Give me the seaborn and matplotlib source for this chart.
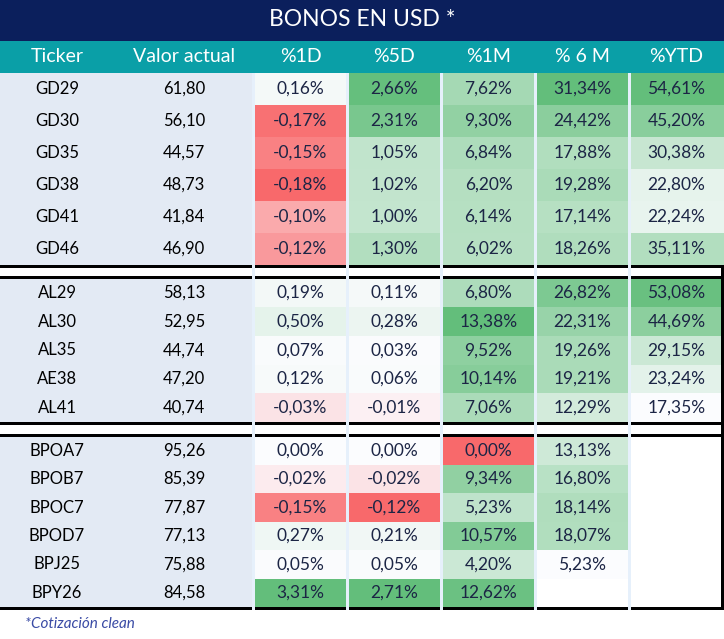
import numpy as np
import pandas as pd
import matplotlib.pyplot as plt
import seaborn as sns
from matplotlib.colors import LinearSegmentedColormap
from matplotlib.patches import Rectangle

# Data per block of bonds
gd_tickers = ["GD29", "GD30", "GD35", "GD38", "GD41", "GD46"]
gd_precio = [61.80, 56.10, 44.57, 48.73, 41.84, 46.90]
gd_1d = [0.16, -0.17, -0.15, -0.18, -0.10, -0.12]
gd_5d = [2.66, 2.31, 1.05, 1.02, 1.00, 1.30]
gd_1m = [7.62, 9.30, 6.84, 6.20, 6.14, 6.02]
gd_6m = [31.34, 24.42, 17.88, 19.28, 17.14, 18.26]
gd_ytd = [54.61, 45.20, 30.38, 22.80, 22.24, 35.11]

al_tickers = ["AL29", "AL30", "AL35", "AE38", "AL41"]
al_precio = [58.13, 52.95, 44.74, 47.20, 40.74]
al_1d = [0.19, 0.50, 0.07, 0.12, -0.03]
al_5d = [0.11, 0.28, 0.03, 0.06, -0.01]
al_1m = [6.80, 13.38, 9.52, 10.14, 7.06]
al_6m = [26.82, 22.31, 19.26, 19.21, 12.29]
al_ytd = [53.08, 44.69, 29.15, 23.24, 17.35]

bp_tickers = ["BPOA7", "BPOB7", "BPOC7", "BPOD7", "BPJ25", "BPY26"]
bp_precio = [95.26, 85.39, 77.87, 77.13, 75.88, 84.58]
bp_1d = [0.00, -0.02, -0.15, 0.27, 0.05, 3.31]
bp_5d = [0.00, -0.02, -0.12, 0.21, 0.05, 2.71]
bp_1m = [0.00, 9.34, 5.23, 10.57, 4.20, 12.62]
bp_6m = [13.13, 16.80, 18.14, 18.07, 5.23, np.nan]
bp_ytd = [np.nan] * 6

columns = ["%1D", "%5D", "%1M", "% 6 M", "%YTD"]
# midpoint of the colour scale per column (None = column minimum)
mids = [0.0, 0.0, 0.0, None, None]

W, H = 724, 639
NAVY = "#0B1F5C"
TEAL = "#0A9FA7"
SIDE = "#E3EAF4"
GAP = "#E6F0FB"

sns.set_theme(style="white")
plt.rcParams['font.family'] = ['Lato', 'DejaVu Sans']

blocks = [
    (gd_tickers, gd_precio, [gd_1d, gd_5d, gd_1m, gd_6m, gd_ytd], 73, 264.5),
    (al_tickers, al_precio, [al_1d, al_5d, al_1m, al_6m, al_ytd], 278.5, 422),
    (bp_tickers, bp_precio, [bp_1d, bp_5d, bp_1m, bp_6m, bp_ytd], 436.5, 607),
]

# column ranges over all blocks
frames = [pd.DataFrame(dict(zip(columns, vals))) for _, _, vals, _, _ in blocks]
full = pd.concat(frames, ignore_index=True)
lows = full.min()
highs = full.max()


def scale(v, lo, hi, mid):
    if np.isnan(v):
        return np.nan
    if v < mid or (v == lo and lo <= 0):
        return -(mid - v) / (mid - lo) if mid > lo else -1.0
    return (v - mid) / (hi - mid)


def fmt_pct(v):
    if np.isnan(v):
        return ""
    return f"{v:.2f}%".replace(".", ",")


cmap = LinearSegmentedColormap.from_list("rwg", ["#F8696B", "#FCFCFF", "#63BE7B"])

fig = plt.figure(figsize=(W / 100, H / 100), dpi=100)
bg = fig.add_axes([0, 0, 1, 1])
bg.set_xlim(0, W)
bg.set_ylim(H, 0)
bg.axis('off')

# title + header bands
bg.add_patch(Rectangle((0, 0), W, 41, color=NAVY, lw=0))
bg.add_patch(Rectangle((0, 41), W, 32, color=TEAL, lw=0))
bg.text(W / 2, 20, "BONOS EN USD *", color="white", fontsize=16.5,
        ha="center", va="center")

col_w = 94
x_heat = 253.5
header_x = [57, 184] + [x_heat + col_w * (i + 0.5) for i in range(5)]
for x, lab in zip(header_x, ["Ticker", "Valor actual"] + columns):
    bg.text(x, 57, lab, color="white", fontsize=14, ha="center", va="center")

for tickers, precio, vals, y0, y1 in blocks:
    n = len(tickers)
    rh = (y1 - y0) / n
    bg.add_patch(Rectangle((0, y0), 252, y1 - y0, color=SIDE, lw=0))
    for i in range(n):
        yc = y0 + (i + 0.5) * rh
        bg.text(57, yc, tickers[i], fontsize=12, ha="center", va="center", color="black")
        bg.text(184, yc, f"{precio[i]:.2f}".replace(".", ","), fontsize=12,
                ha="center", va="center", color="black")

    df = pd.DataFrame(dict(zip(columns, vals)))
    colour = pd.DataFrame({
        c: [scale(v, lows[c], highs[c], lows[c] if m is None else m) for v in df[c]]
        for c, m in zip(columns, mids)
    })
    labels = df.apply(lambda s: s.map(fmt_pct)).values

    hax = fig.add_axes([x_heat / W, 1 - y1 / H, (W - 0.5 - x_heat) / W, (y1 - y0) / H])
    sns.heatmap(colour, ax=hax, cmap=cmap, vmin=-1, vmax=1, cbar=False,
                annot=labels, fmt="", xticklabels=False, yticklabels=False,
                annot_kws={"fontsize": 12.5, "color": "#1C2545"})
    hax.axis('off')

# separators drawn on top
ov = fig.add_axes([0, 0, 1, 1])
ov.set_xlim(0, W)
ov.set_ylim(H, 0)
ov.axis('off')
for ya, yb in [(264.5, 267.5), (275.5, 278.5), (422, 425), (433.5, 436.5), (607, 610)]:
    ov.add_patch(Rectangle((0, ya), W, yb - ya, color="black", lw=0))
for x in [252] + [x_heat + col_w * i - 1.5 for i in range(1, 5)]:
    ov.add_patch(Rectangle((x, 73), 3, 537, color=GAP, lw=0))
ov.add_patch(Rectangle((721, 264.5), 2.5, 345.5, color="black", lw=0))

ov.text(25, 624, "*Cotización clean", fontsize=11, style="italic",
        color="#3A4BA5", ha="left", va="center")

fig.savefig("out.png", dpi=100)
